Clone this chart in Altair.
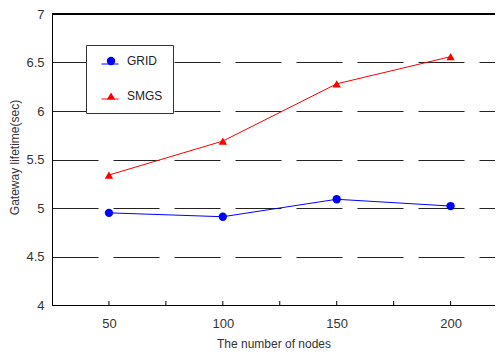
import altair as alt
import pandas as pd

nodes = [50, 100, 150, 200]
grid_vals = [4.95, 4.91, 5.09, 5.02]
smgs_vals = [5.34, 5.69, 6.28, 6.56]
series = ["GRID", "SMGS"]
colors = ["#0000FF", "#FF0000"]
x_minor = [50, 75, 100, 125, 150, 175, 200]
y_ticks = [4, 4.5, 5, 5.5, 6, 6.5, 7]

df = pd.DataFrame({
    "nodes": nodes * 2,
    "value": grid_vals + smgs_vals,
    "series": ["GRID"] * 4 + ["SMGS"] * 4,
})
df["line_series"] = df["series"]
ticks_df = pd.DataFrame({"t": x_minor})

W, H = 443, 291
FONT = "Liberation Sans"

x_scale = alt.Scale(domain=[25, 219.5], nice=False, zero=False)
y_scale = alt.Scale(domain=[4, 7], nice=False, zero=False)

x_axis = alt.Axis(values=nodes, title="The number of nodes", grid=False,
                  ticks=False, labelPadding=12, titlePadding=8, format="d")
x_enc = alt.X("nodes:Q", scale=x_scale, axis=x_axis)
y_enc = alt.Y("value:Q", scale=y_scale,
              axis=alt.Axis(values=y_ticks, title="Gateway lifetime(sec)", grid=True,
                            gridDash=[46, 15], gridColor="#222", gridWidth=1,
                            ticks=False, labelPadding=8, titleX=-38, titleY=143,
                            titleBaseline="middle", format="~g"))

common_leg = dict(orient="none", legendX=34, legendY=31, padding=10, rowPadding=20,
                  labelFont=FONT, labelFontSize=12, labelColor="#222", title=None)

tick_marks = alt.Chart(ticks_df).mark_rule(color="black", strokeWidth=1).encode(
    x=alt.X("t:Q", scale=x_scale, axis=x_axis),
    y=alt.datum(4),
    y2=alt.value(H - 4),
)

top_border = alt.Chart(ticks_df).mark_rule(color="black", strokeWidth=1).encode(
    y=alt.datum(7),
)

lines = alt.Chart(df).mark_line(strokeWidth=1).encode(
    x=x_enc, y=y_enc,
    stroke=alt.Stroke("line_series:N", scale=alt.Scale(range=colors),
                      legend=alt.Legend(symbolType="stroke", symbolSize=289,
                                        symbolStrokeWidth=1, labelOpacity=0,
                                        symbolOffset=5, zindex=2, **common_leg)),
)

box_leg = alt.Legend(strokeColor="#333", fillColor="white", zindex=1,
                     symbolSize=70, symbolOffset=9, labelOffset=10, **common_leg)
points = alt.Chart(df).mark_point(filled=True, size=70, opacity=1).encode(
    x=x_enc, y=y_enc,
    fill=alt.Fill("series:N", scale=alt.Scale(domain=series, range=colors), legend=box_leg),
    shape=alt.Shape("series:N", scale=alt.Scale(domain=series, range=["circle", "triangle-up"]),
                    legend=box_leg),
)

chart = alt.layer(tick_marks, top_border, lines, points).properties(
    width=W, height=H,
    autosize=alt.AutoSizeParams(type="none"),
    padding={"left": 44, "top": 6, "right": 0, "bottom": 46},
).configure_view(stroke=None).configure_axis(
    labelFont=FONT, titleFont=FONT, labelFontSize=13, titleFontSize=12,
    labelColor="#333", titleColor="#333", titleFontWeight="normal",
    domainColor="black", domainWidth=1,
)

chart.save("out.html", embed_options={"renderer": "svg", "actions": False})
